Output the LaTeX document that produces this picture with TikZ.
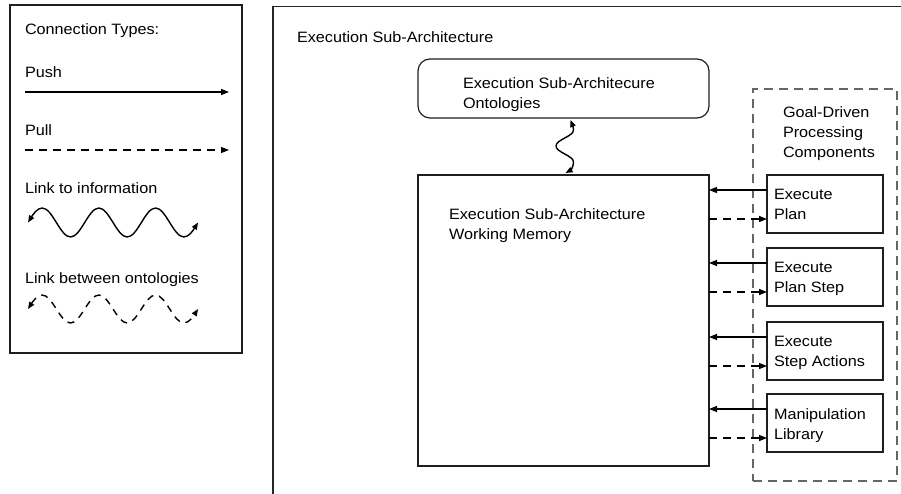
\documentclass[tikz,border=0pt]{standalone}
\usepackage{fontspec}
\setmainfont{Liberation Sans}[FakeStretch=1.08]
\usetikzlibrary{arrows.meta}
% left-aligned block of lines whose reference point is the first baseline
\newcommand\mlines[1]{\begin{tabular}[t]{@{}l@{}}#1\end{tabular}}
\begin{document}
\begin{tikzpicture}[x=1pt, y=-1pt,
  every node/.style={inner sep=0pt, outer sep=0pt},
  txt/.style={anchor=base west, font=\fontsize{15}{20}\selectfont},
  box/.style={draw=black!88, line width=1.2pt, anchor=north west},
  comp/.style={box, minimum width=116, minimum height=58},
  tipA/.style={},
  push/.style={draw=black, line width=1.4pt, -{Triangle[length=8pt,width=6pt]}},
  pull/.style={push, dash pattern=on 8pt off 6pt},
  info/.style={draw=black, line width=1.4pt,
    {Triangle[length=7pt,width=5.5pt]}-{Triangle[length=7pt,width=5.5pt]}},
  onto/.style={info, dash pattern=on 7pt off 6pt},
  group/.style={draw=black!60, line width=1.2pt, dash pattern=on 9pt off 6pt, anchor=north west}
]
\useasboundingbox (0,0) rectangle (901,494);

% ---------- legend ----------
\node[box, line width=1.3pt, minimum width=232, minimum height=348] (legend) at (10,5) {};
\node[txt] (lgtitle) at (25,35) {Connection Types:};
\node[txt] (lgpush) at (25,77.5) {Push};
\coordinate (pushA) at (25,92);
\coordinate (pushB) at (229,92);
\draw[push] (pushA) -- (pushB);
\node[txt] (lgpull) at (25,136) {Pull};
\coordinate (pullA) at (25,150);
\coordinate (pullB) at (229,150);
\draw[pull] (pullA) -- (pullB);
\node[txt] (lginfo) at (25,194) {Link to information};
\draw[info] (28,222.5)
  sin ++(14.17,-14.5) cos ++(14.17,14.5) sin ++(14.17,14.5) cos ++(14.17,-14.5)
  sin ++(14.17,-14.5) cos ++(14.17,14.5) sin ++(14.17,14.5) cos ++(14.17,-14.5)
  sin ++(14.17,-14.5) cos ++(14.17,14.5) sin ++(14.17,14.5) cos ++(14.17,-14.5);
\node[txt] (lgonto) at (25,283) {Link between ontologies};
\draw[onto] (28,309)
  sin ++(14.17,-14) cos ++(14.17,14) sin ++(14.17,14) cos ++(14.17,-14)
  sin ++(14.17,-14) cos ++(14.17,14) sin ++(14.17,14) cos ++(14.17,-14)
  sin ++(14.17,-14) cos ++(14.17,14) sin ++(14.17,14) cos ++(14.17,-14);

% ---------- execution sub-architecture ----------
\draw[draw=black!85, line width=1.3pt] (901,6.5) -- (273,6.5) -- (273,494);
\node[txt] (extitle) at (297,43) {Execution Sub-Architecture};

\node[box, rounded corners=12pt, minimum width=291, minimum height=59] (onto) at (418,59) {};
\node[txt] (ontotxt) at (463,88.5) {\mlines{Execution Sub-Architecure\\Ontologies}};

\node[box, minimum width=291, minimum height=291] (wm) at (418,175) {};
\node[txt] (wmtxt) at (449,220) {\mlines{Execution Sub-Architecture\\Working Memory}};

\draw[info] ([shift={(7,2)}]onto.south)
  .. controls (572,124) and (573.5,127) .. (573.5,130)
  .. controls (573.5,136.4) and (556,139.6) .. (556,146)
  .. controls (556,152.4) and (573.5,155.6) .. (573.5,162)
  .. controls (573.5,166) and (571,170) .. ([shift={(2,-2)}]wm.north);

% ---------- goal-driven processing components ----------
\node[group, minimum width=144, minimum height=392] (gdp) at (753,89) {};
\node[txt] (gdptxt) at (783,118) {\mlines{Goal-Driven\\Processing\\Components}};

\node[comp] (plan) at (767,175) {};
\node[txt] (plantxt) at (774,199.5) {\mlines{Execute\\Plan}};
\node[comp] (step) at (767,248) {};
\node[txt] (steptxt) at (774,272.5) {\mlines{Execute\\Plan Step}};
\node[comp] (act) at (767,322) {};
\node[txt] (acttxt) at (774,346.5) {\mlines{Execute\\Step Actions}};
\node[comp] (manip) at (767,394) {};
\node[txt] (maniptxt) at (774,419) {\mlines{Manipulation\\Library}};

\foreach \c in {plan,step,act,manip}{
  \draw[push] ([yshift=-15pt]\c.north west) -- ([yshift=-15pt]\c.north west -| wm.east);
  \draw[pull] ([yshift=-44pt]\c.north west -| wm.east) -- ([yshift=-44pt]\c.north west);
}
\end{tikzpicture}
\end{document}
